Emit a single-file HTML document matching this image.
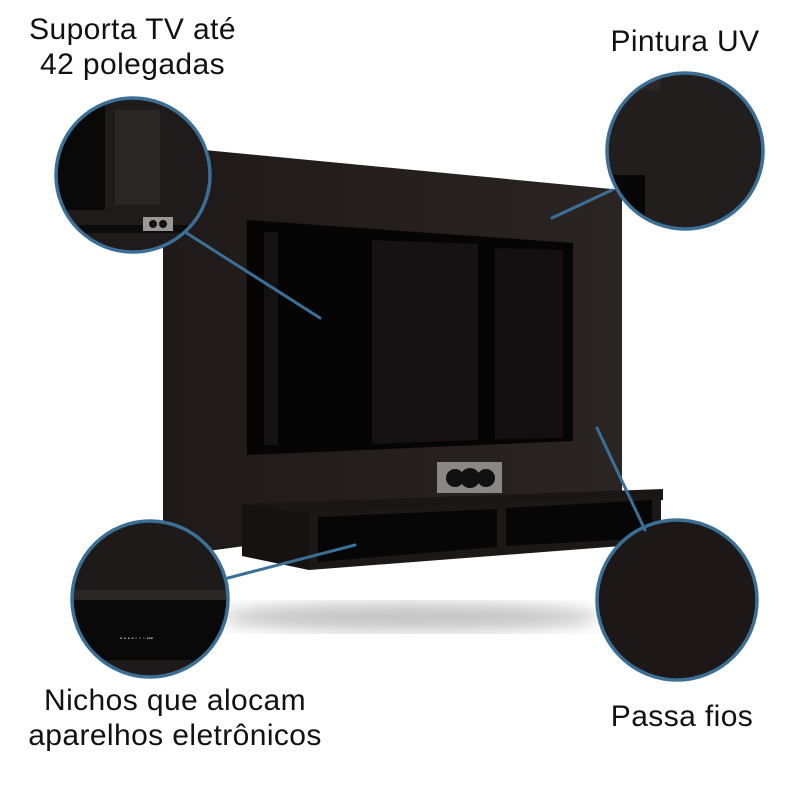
<!DOCTYPE html>
<html><head><meta charset="utf-8"><style>
html,body{margin:0;padding:0;background:#fff;width:800px;height:800px;overflow:hidden}
.t{position:absolute;font-family:"Liberation Sans",sans-serif;font-size:30px;color:#111;text-align:center;line-height:35px;letter-spacing:0.4px}
</style></head><body>
<svg width="800" height="800" style="position:absolute;left:0;top:0">
<defs>
<filter id="b"><feGaussianBlur stdDeviation="8"/></filter>
<linearGradient id="pg" x1="0" x2="1" y1="0" y2="0"><stop offset="0" stop-color="#1f1a19"/><stop offset="1" stop-color="#2a2422"/></linearGradient>
<clipPath id="c1"><circle cx="133" cy="175" r="77"/></clipPath>
<clipPath id="c2"><circle cx="685" cy="151" r="78"/></clipPath>
<clipPath id="c3"><circle cx="150" cy="599" r="78"/></clipPath>
<clipPath id="c4"><circle cx="677" cy="600" r="80"/></clipPath>
</defs>
<ellipse cx="410" cy="617" rx="190" ry="14" fill="#c4c4c4" filter="url(#b)"/>
<polygon points="163,146 622,190 622,495 163,557" fill="url(#pg)"/>
<polygon points="247,220 573,243 573,441 247,455" fill="#060505"/>
<polygon points="264,232 278,232 278,445 264,445" fill="#141212"/>
<polygon points="372,240 478,244 478,440 372,444" fill="#141212"/>
<polygon points="495,248 563,250 563,438 495,439" fill="#121010"/>
<rect x="437" y="462" width="65" height="31" fill="#8a8886"/>
<circle cx="455" cy="478" r="9" fill="#111"/><circle cx="470" cy="478" r="10" fill="#111"/><circle cx="486" cy="478" r="9" fill="#111"/>
<polygon points="242,504 663,489 663,500 309,515" fill="#1a1615"/>
<polygon points="309,513 661,495 661,543 309,570" fill="#1c1817"/>
<polygon points="242,504 309,513 309,570 242,556" fill="#151211"/>
<polygon points="318,517 497,509 497,547 318,562" fill="#070606"/>
<polygon points="506,508 652,500 652,538 506,546" fill="#070606"/>
<g clip-path="url(#c1)"><rect x="50" y="95" width="170" height="160" fill="#1f1b1a"/><rect x="50" y="95" width="55" height="115" fill="#0a0909"/><rect x="115" y="110" width="45" height="95" fill="#2a2625"/><rect x="50" y="225" width="170" height="8" fill="#0c0b0b"/><rect x="143" y="217" width="30" height="14" fill="#9a9896"/><circle cx="153" cy="224" r="4" fill="#111"/><circle cx="163" cy="224" r="4" fill="#111"/></g>
<circle cx="133" cy="175" r="77" fill="none" stroke="#3b6f96" stroke-width="3.5"/>
<g clip-path="url(#c2)"><rect x="600" y="70" width="170" height="165" fill="#221e1d"/><rect x="600" y="175" width="45" height="60" fill="#070606"/><rect x="600" y="70" width="60" height="20" fill="#2b2726"/></g>
<circle cx="685" cy="151" r="78" fill="none" stroke="#3b6f96" stroke-width="3.5"/>
<g clip-path="url(#c3)"><rect x="70" y="518" width="165" height="165" fill="#1e1a19"/><rect x="70" y="590" width="165" height="10" fill="#2a2625"/><rect x="70" y="600" width="165" height="60" fill="#0a0909"/><text x="120" y="640" font-family="Liberation Sans" font-size="6" fill="#aaa">▪ ▪ ▪ ▪ ▫ ▫ ▫ ▪▪▪</text></g>
<circle cx="150" cy="599" r="78" fill="none" stroke="#3b6f96" stroke-width="3.5"/>
<g clip-path="url(#c4)"><rect x="595" y="518" width="165" height="165" fill="#1d1817"/></g>
<circle cx="677" cy="600" r="80" fill="none" stroke="#3b6f96" stroke-width="3.5"/>
<g stroke="#3b6f96" stroke-width="3" stroke-linecap="round">
<line x1="185" y1="232" x2="320" y2="318"/>
<line x1="612" y1="190" x2="552" y2="218"/>
<line x1="228" y1="578" x2="355" y2="545"/>
<line x1="597" y1="428" x2="645" y2="530"/>
</g>
</svg>
<div class="t" style="left:0;top:12px;width:265px">Suporta TV até<br>42 polegadas</div>
<div class="t" style="left:585px;top:24px;width:200px">Pintura UV</div>
<div class="t" style="left:0;top:683px;width:350px">Nichos que alocam<br>aparelhos eletrônicos</div>
<div class="t" style="left:580px;top:699px;width:204px">Passa fios</div>
</body></html>
